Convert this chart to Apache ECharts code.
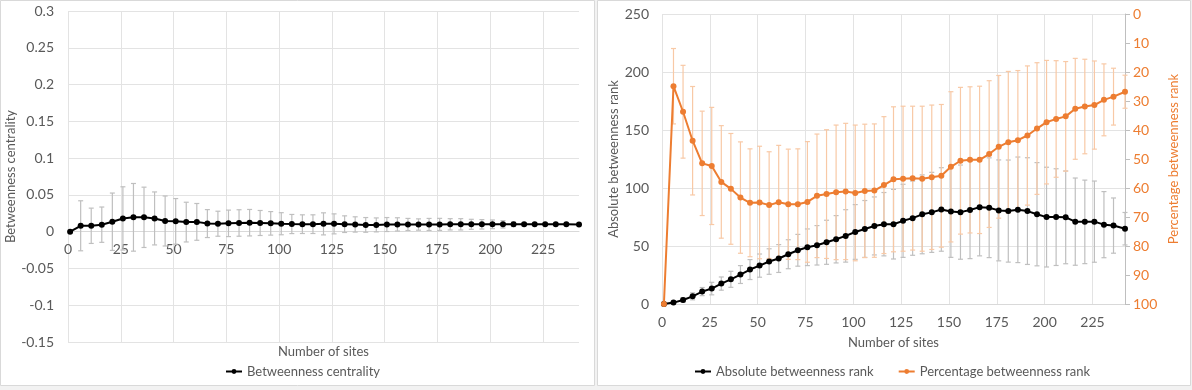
<!DOCTYPE html>
<html>
<head>
<meta charset="utf-8">
<script src="https://cdn.jsdelivr.net/npm/echarts@6/dist/echarts.min.js"></script>
<style>
  html, body { margin: 0; padding: 0; background: #fff; }
  #chart { width: 1192px; height: 390px; }
</style>
</head>
<body>
<div id="chart"></div>
<script>
// number of sites sampled (same for both panels)
const sites = [1, 6, 11, 16, 21, 26, 31, 36, 41, 46, 51, 56, 61, 66, 71, 76, 81, 86, 91, 96,
  101, 106, 111, 116, 121, 126, 131, 136, 141, 146, 151, 156, 161, 166, 171, 176, 181, 186, 191, 196,
  201, 206, 211, 216, 221, 226, 231, 236, 242]

// left panel: betweenness centrality mean and error
const centrality = [0, 0.008, 0.008, 0.0095, 0.0135, 0.018, 0.0195, 0.0195, 0.018, 0.0145,
  0.014, 0.013, 0.0133, 0.011, 0.0108, 0.0113, 0.0118, 0.0122, 0.0118, 0.0113,
  0.0108, 0.0104, 0.0102, 0.0102, 0.0106, 0.0106, 0.0102, 0.0098, 0.0092, 0.0092,
  0.0097, 0.0099, 0.0098, 0.0097, 0.0098, 0.0099, 0.01, 0.01, 0.01, 0.01,
  0.01, 0.01, 0.01, 0.01, 0.01, 0.01, 0.01, 0.01, 0.0098]
const centralityErr = [0, 0.034, 0.024, 0.024, 0.039, 0.043, 0.046, 0.041, 0.036, 0.034,
  0.031, 0.027, 0.025, 0.019, 0.017, 0.018, 0.018, 0.018, 0.017, 0.016,
  0.015, 0.013, 0.0127, 0.0127, 0.015, 0.0136, 0.0113, 0.0104, 0.01, 0.0095,
  0.0095, 0.009, 0.0082, 0.0077, 0.0082, 0.0082, 0.0077, 0.0077, 0.0068, 0.0064,
  0.0059, 0.005, 0.003, 0.002, 0.001, 0, 0, 0, 0]

// right panel: absolute rank (left axis) and percentage rank (right axis, inverted)
const absRank = [0, 1.2, 3.5, 6.6, 10.7, 13.3, 17.6, 21.3, 25.4, 29.7,
  33.1, 36.6, 39.2, 42.9, 46.3, 48.9, 50.6, 53.2, 55.8, 58.7,
  62.1, 64.7, 67.3, 68.8, 68.8, 71.7, 74, 77.3, 79, 81.5,
  79.7, 79.2, 81.1, 83.5, 83, 80.7, 80.1, 81.2, 80.1, 77.4,
  74.9, 74.9, 74.7, 71, 70.8, 71, 68.4, 67.6, 64.9]
const absRankErr = [0, 1, 2, 3, 3.5, 5.4, 5.7, 6.9, 7.7, 8.6,
  10, 11, 12, 12.5, 13.7, 15.8, 17, 19, 20.4, 22.6,
  23.6, 24.5, 25, 27.3, 30, 31.5, 32, 34, 34.5, 36,
  39.5, 40.6, 42, 42, 43, 43.5, 44, 45.5, 46, 44.5,
  43, 41.7, 40, 37.6, 36, 35, 28.5, 23.8, 14]
const pctRank = [100, 24.9, 33.7, 43.7, 51.5, 52.4, 57.9, 60.3, 63.3, 65.1,
  65.0, 65.9, 64.9, 65.6, 65.6, 64.8, 62.7, 62.1, 61.5, 61.2,
  61.7, 61.0, 60.9, 59.0, 57.0, 56.8, 56.6, 56.8, 56.3, 55.8,
  52.7, 50.6, 50.3, 50.3, 48.3, 45.8, 44.2, 43.5, 41.9, 39.5,
  37.3, 36.2, 35.3, 32.7, 31.9, 31.4, 29.6, 28.5, 26.8]
const pctRankErr = [0, 13, 16, 18.7, 18, 20.2, 19.4, 19.1, 19.2, 18.6,
  19.4, 18.4, 19.6, 19, 19.1, 20.8, 21.3, 22.2, 23.2, 23.5,
  23.4, 23, 23, 23.6, 25, 25, 24.8, 25, 24.9, 24.6,
  25.9, 25.3, 25.2, 25.4, 25.3, 24.6, 24.4, 24, 24, 22.7,
  21.3, 20.1, 18.9, 17.4, 16.3, 15.2, 12.4, 9.8, 5.7]

const FONT = 'Lato'
const GRAY = '#595959'
const ORANGE = '#ED7D31'

function points(vals) {
  return sites.map((x, i) => [x, vals[i]])
}
function bars(vals, errs) {
  return sites.map((x, i) => [x, vals[i] - errs[i], vals[i] + errs[i]]).filter((d, i) => errs[i] > 0)
}

// vertical error bar with caps
function renderErr(params, api) {
  const x = api.value(0)
  const lo = api.coord([x, api.value(1)])
  const hi = api.coord([x, api.value(2)])
  const c = 2.5
  const style = { stroke: api.visual('color'), lineWidth: 1.2 }
  return {
    type: 'group',
    children: [
      { type: 'line', shape: { x1: lo[0], y1: lo[1], x2: hi[0], y2: hi[1] }, style },
      { type: 'line', shape: { x1: lo[0] - c, y1: lo[1], x2: lo[0] + c, y2: lo[1] }, style },
      { type: 'line', shape: { x1: hi[0] - c, y1: hi[1], x2: hi[0] + c, y2: hi[1] }, style }
    ]
  }
}

// left grid spans -0.15..0.3 over 331px; the x axis sits on y = 0
const leftGridH = 331
const yMinL = -0.15
const yMaxL = 0.3
const zeroOffset = -leftGridH * (0 - yMinL) / (yMaxL - yMinL)

const splitLine = { show: true, lineStyle: { color: '#e3e3e3', width: 1 } }
const xCommon = {
  type: 'value',
  min: 0,
  max: 242,
  interval: 25,
  axisTick: { show: false },
  axisLabel: { color: GRAY, fontFamily: FONT, fontSize: 14, margin: 11, showMaxLabel: false },
  splitLine: Object.assign({ showMaxLine: false }, splitLine),
  name: 'Number of sites',
  nameLocation: 'middle',
  nameTextStyle: { color: GRAY, fontFamily: FONT, fontSize: 13 }
}

const chart = echarts.init(document.getElementById('chart'))
const option = {
  animation: false,
  backgroundColor: '#f2f2f2',
  graphic: [
    { type: 'rect', z: -10, shape: { x: 0.5, y: 0.5, width: 594, height: 385 }, style: { fill: '#fff', stroke: '#d9d9d9' } },
    { type: 'rect', z: -10, shape: { x: 597.5, y: 0.5, width: 593, height: 385 }, style: { fill: '#fff', stroke: '#d9d9d9' } }
  ],
  grid: [
    { left: 68, top: 11, width: 511, height: leftGridH, outerBoundsMode: 'none' },
    { left: 662, top: 14, width: 463, height: 290, outerBoundsMode: 'none' }
  ],
  legend: [
    {
      data: ['Betweenness centrality'],
      left: 220, top: 360,
      itemWidth: 16, itemHeight: 6,
      textStyle: { color: GRAY, fontFamily: FONT, fontSize: 13 }
    },
    {
      data: ['Absolute betweenness rank', 'Percentage betweenness rank'],
      left: 689, top: 360,
      itemWidth: 16, itemHeight: 6, itemGap: 24,
      textStyle: { color: GRAY, fontFamily: FONT, fontSize: 13 }
    }
  ],
  xAxis: [
    Object.assign({}, xCommon, {
      gridIndex: 0,
      position: 'bottom',
      offset: zeroOffset,
      nameGap: 114,
      axisLine: { show: true, onZero: false, lineStyle: { color: '#d9d9d9' } }
    }),
    Object.assign({}, xCommon, {
      gridIndex: 1,
      nameGap: 32,
      axisLine: { show: true, onZero: false, lineStyle: { color: '#d9d9d9' } }
    })
  ],
  yAxis: [
    {
      gridIndex: 0,
      type: 'value',
      min: yMinL, max: yMaxL, interval: 0.05,
      axisLine: { show: false, onZero: false },
      axisTick: { show: false },
      axisLabel: { color: GRAY, fontFamily: FONT, fontSize: 14, margin: 14 },
      splitLine: splitLine,
      name: 'Betweenness centrality',
      nameLocation: 'middle',
      nameGap: 49,
      nameTextStyle: { color: GRAY, fontFamily: FONT, fontSize: 13 }
    },
    {
      gridIndex: 1,
      type: 'value',
      min: 0, max: 250, interval: 50,
      axisLine: { show: false },
      axisTick: { show: false },
      axisLabel: { color: GRAY, fontFamily: FONT, fontSize: 14, margin: 13 },
      splitLine: splitLine,
      name: 'Absolute betweenness rank',
      nameLocation: 'middle',
      nameGap: 39,
      nameTextStyle: { color: GRAY, fontFamily: FONT, fontSize: 13 }
    },
    {
      gridIndex: 1,
      type: 'value',
      position: 'right',
      inverse: true,
      min: 0, max: 100, interval: 10,
      axisLine: { show: true, lineStyle: { color: '#bfbfbf' } },
      axisTick: { show: true, length: 5, lineStyle: { color: '#bfbfbf' } },
      axisLabel: { color: ORANGE, fontFamily: FONT, fontSize: 14, margin: 8 },
      splitLine: { show: false },
      name: 'Percentage betweenness rank',
      nameLocation: 'middle',
      nameGap: 42,
      nameTextStyle: { color: ORANGE, fontFamily: FONT, fontSize: 13 }
    }
  ],
  series: [
    {
      type: 'custom',
      xAxisIndex: 0, yAxisIndex: 0,
      renderItem: renderErr,
      itemStyle: { color: '#bfbfbf' },
      encode: { x: 0, y: [1, 2] },
      data: bars(centrality, centralityErr),
      z: 1
    },
    {
      name: 'Betweenness centrality',
      type: 'line',
      xAxisIndex: 0, yAxisIndex: 0,
      data: points(centrality),
      symbol: 'circle', symbolSize: 6,
      itemStyle: { color: '#000' },
      lineStyle: { color: '#000', width: 2 },
      z: 3
    },
    {
      type: 'custom',
      xAxisIndex: 1, yAxisIndex: 1,
      renderItem: renderErr,
      itemStyle: { color: '#bfbfbf' },
      encode: { x: 0, y: [1, 2] },
      data: bars(absRank, absRankErr),
      z: 1
    },
    {
      type: 'custom',
      xAxisIndex: 1, yAxisIndex: 2,
      renderItem: renderErr,
      itemStyle: { color: '#f8c9a6' },
      encode: { x: 0, y: [1, 2] },
      data: bars(pctRank, pctRankErr),
      z: 1
    },
    {
      name: 'Absolute betweenness rank',
      type: 'line',
      xAxisIndex: 1, yAxisIndex: 1,
      data: points(absRank),
      symbol: 'circle', symbolSize: 6,
      itemStyle: { color: '#000' },
      lineStyle: { color: '#000', width: 2 },
      z: 3
    },
    {
      name: 'Percentage betweenness rank',
      type: 'line',
      xAxisIndex: 1, yAxisIndex: 2,
      data: points(pctRank),
      symbol: 'circle', symbolSize: 6,
      itemStyle: { color: ORANGE },
      lineStyle: { color: ORANGE, width: 2 },
      z: 4
    }
  ]
}
chart.setOption(option)
</script>
</body>
</html>
